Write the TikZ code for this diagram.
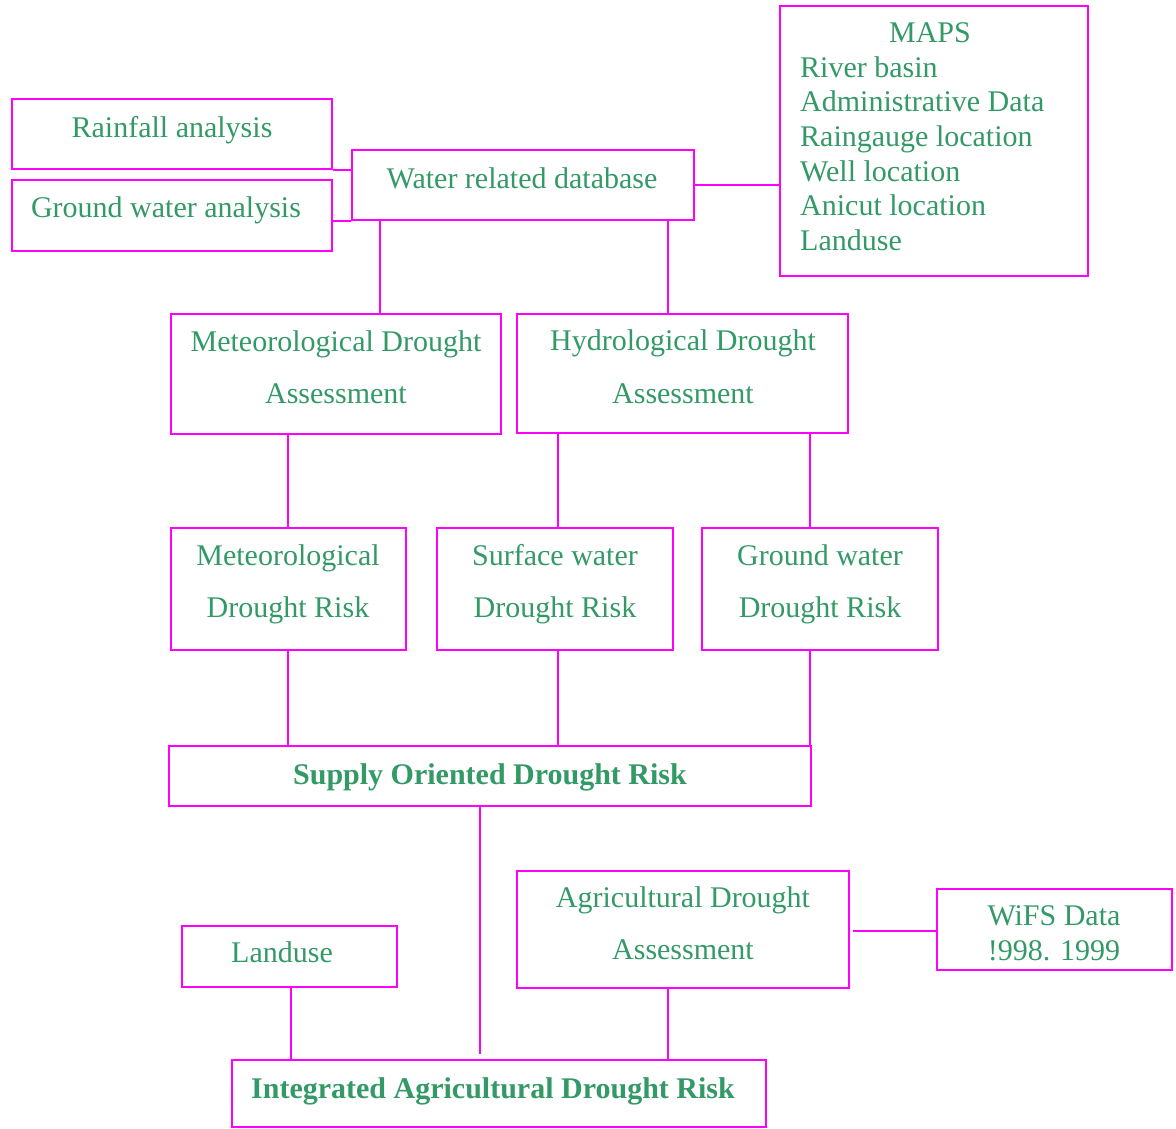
\documentclass[tikz,border=0pt]{standalone}
\usepackage{fontspec}
\setmainfont{Liberation Serif}
\usetikzlibrary{calc}
\definecolor{mag}{HTML}{FF00FF}
\definecolor{grn}{HTML}{339966}
\begin{document}
\begin{tikzpicture}[x=1pt,y=-1pt,
  box/.style={draw=mag,line width=1.8pt,inner sep=0pt,rectangle},
  conn/.style={draw=mag,line width=1.8pt},
  txt/.style={text=grn,font=\fontsize{30}{36}\selectfont,inner sep=0pt,anchor=base},
  txtl/.style={txt,anchor=base west},
  btxt/.style={txt,font=\fontsize{30}{36}\selectfont\bfseries}]
\useasboundingbox (0,0) rectangle (1176,1128);
% boxes
\node[box,minimum width=320,minimum height=70] (rain) at (172,134) {};
\node[box,minimum width=320,minimum height=71] (gwa) at (172,215.5) {};
\node[box,minimum width=342,minimum height=70] (wrd) at (523,185) {};
\node[box,minimum width=308,minimum height=270] (maps) at (934,141) {};
\node[box,minimum width=330,minimum height=120] (metda) at (336,374) {};
\node[box,minimum width=331,minimum height=119] (hydda) at (682.5,373.5) {};
\node[box,minimum width=235,minimum height=122] (metdr) at (288.5,589) {};
\node[box,minimum width=236,minimum height=122] (sfdr) at (555,589) {};
\node[box,minimum width=236,minimum height=122] (gwdr) at (820,589) {};
\node[box,minimum width=642,minimum height=60] (supply) at (490,776) {};
\node[box,minimum width=215,minimum height=61] (landuse) at (289.5,956.5) {};
\node[box,minimum width=332,minimum height=117] (agri) at (683,929.5) {};
\node[box,minimum width=235,minimum height=81] (wifs) at (1054.5,929.5) {};
\node[box,minimum width=534,minimum height=67] (integ) at (499,1093.5) {};
% texts
\node[txt] (train) at (172,137) {Rainfall analysis};
\node[txt] (tgwa) at (166,217.5) {Ground water analysis};
\node[txt] (twrd) at (522,188) {Water related database};
\node[txt] (tmaps) at (930,42.5) {MAPS};
\node[txtl] (tm1) at (800,77.3) {River basin};
\node[txtl] (tm2) at (800,111.9) {Administrative Data};
\node[txtl] (tm3) at (800,146.5) {Raingauge location};
\node[txtl] (tm4) at (800,181.1) {Well location};
\node[txtl] (tm5) at (800,215.7) {Anicut location};
\node[txtl] (tm6) at (800,250.3) {Landuse};
\node[txt] (tmda1) at (336,351) {Meteorological Drought};
\node[txt] (tmda2) at (336,403) {Assessment};
\node[txt] (thda1) at (683,350) {Hydrological Drought};
\node[txt] (thda2) at (683,403) {Assessment};
\node[txt] (tmdr1) at (288,565) {Meteorological};
\node[txt] (tmdr2) at (288,617) {Drought Risk};
\node[txt] (tsdr1) at (555,565) {Surface water};
\node[txt] (tsdr2) at (555,617) {Drought Risk};
\node[txt] (tgdr1) at (820,565) {Ground water};
\node[txt] (tgdr2) at (820,617) {Drought Risk};
\node[btxt] (tsup) at (490,784) {Supply Oriented Drought Risk};
\node[txt] (tland) at (282,962) {Landuse};
\node[txt] (tag1) at (683,907) {Agricultural Drought};
\node[txt] (tag2) at (683,959) {Assessment};
\node[txt] (twf1) at (1054,925) {WiFS Data};
\node[txt] (twf2) at (1054,960.5) {!998. 1999};
\node[btxt] (tint) at (493,1098) {Integrated Agricultural Drought Risk};
% connectors
\draw[conn] (rain.south east) -- ($(rain.south east -| wrd.west)+(2,0)$);
\draw[conn] (wrd.south west) -- (wrd.south west -| gwa.east);
\draw[conn] (wrd.east) -- (wrd.east -| maps.west);
\coordinate (w1) at ($(wrd.south west)+(29,0)$);
\coordinate (w2) at ($(wrd.south east)+(-27,0)$);
\draw[conn] (w1) -- (w1 |- metda.north);
\draw[conn] (w2) -- (w2 |- hydda.north);
\coordinate (m1) at ($(metdr.north)+(-0.5,0)$);
\draw[conn] (m1) -- (m1 |- metda.south);
\coordinate (s1) at ($(sfdr.north)+(3,0)$);
\coordinate (g1) at ($(gwdr.north)+(-10,0)$);
\draw[conn] (s1) -- (s1 |- hydda.south);
\draw[conn] (g1) -- (g1 |- hydda.south);
\coordinate (m2) at ($(metdr.south)+(-0.5,0)$);
\draw[conn] (m2) -- (m2 |- supply.north);
\coordinate (s2) at ($(sfdr.south)+(3,0)$);
\coordinate (g2) at ($(gwdr.south)+(-10,0)$);
\draw[conn] (s2) -- (s2 |- supply.north);
\draw[conn] (g2) -- (g2 |- supply.north);
\coordinate (sx) at ($(supply.south)+(-10,0)$);
\draw[conn] (sx) -- ($(sx |- integ.north)+(0,-5)$);
\coordinate (l1) at ($(landuse.south)+(1.5,0)$);
\draw[conn] (l1) -- (l1 |- integ.north);
\coordinate (a1) at ($(agri.south)+(-15,0)$);
\draw[conn] (a1) -- (a1 |- integ.north);
\coordinate (e1) at ($(agri.east)+(3,1.5)$);
\draw[conn] (e1) -- (e1 -| wifs.west);
\end{tikzpicture}
\end{document}
